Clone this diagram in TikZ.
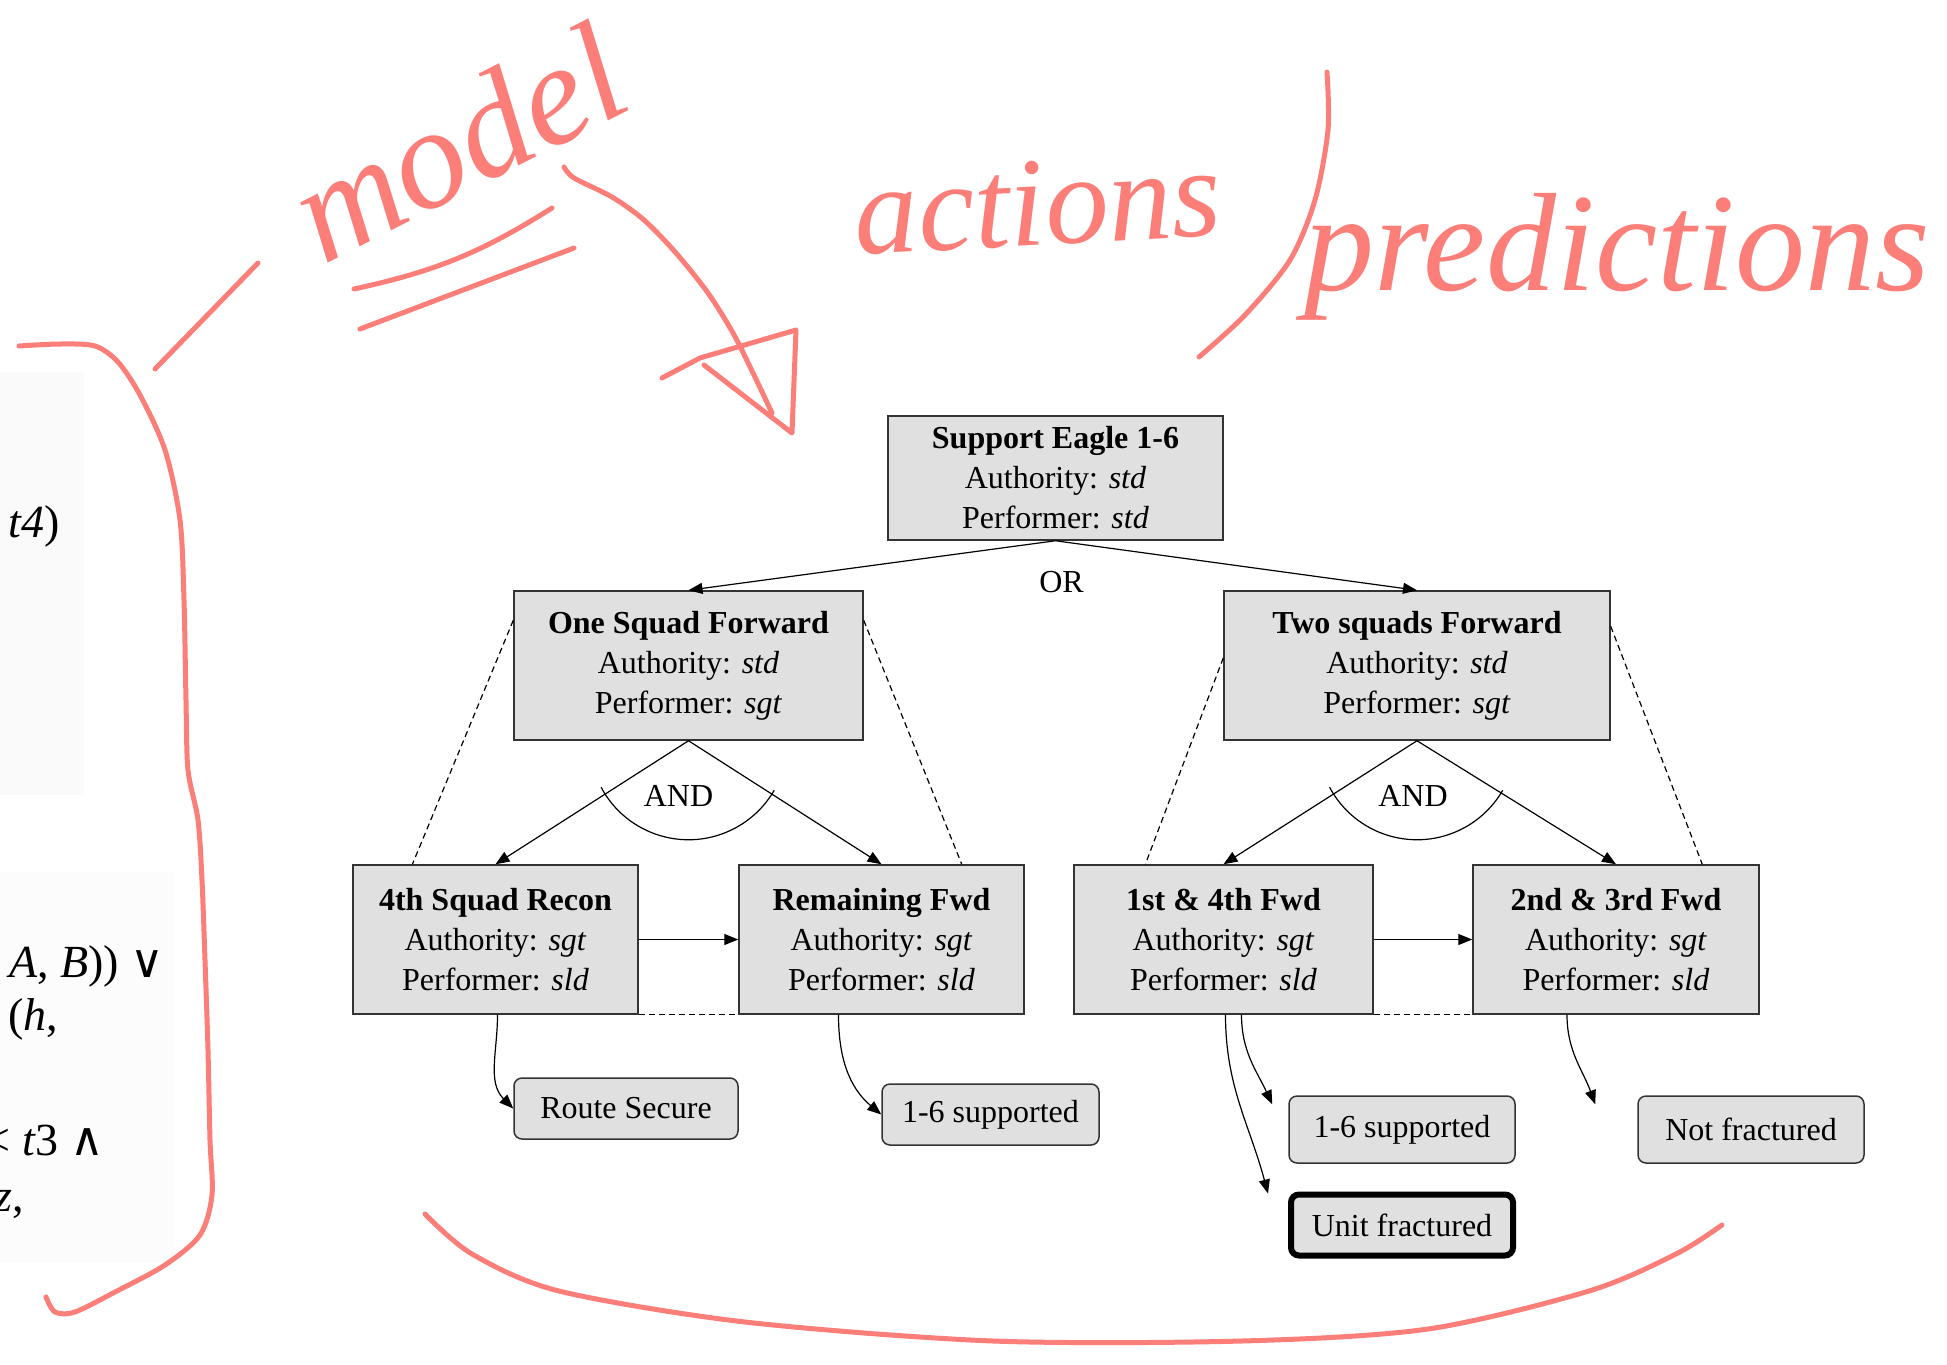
\documentclass[tikz,border=0pt]{standalone}
\usepackage{amsmath}
\usepackage{amssymb}
\usepackage{fontspec}
\setmainfont{Liberation Serif}
\newfontfamily\symfont{DejaVu Serif}
\usetikzlibrary{positioning,arrows.meta,calc}
\definecolor{penpink}{RGB}{252,126,121}

\begin{document}
\begin{tikzpicture}[x=1pt,y=-1pt,on grid,line width=1.2pt,
		>={Triangle[length=14pt,width=11pt]},
		font=\fontsize{32}{40}\selectfont,
		task/.style={draw=black!80,fill=black!12,line width=1.5pt,align=center,minimum height=149pt},
		outcome/.style={draw=black!80,fill=black!12,line width=1.5pt,rounded corners=8pt,minimum height=61pt},
		frag/.style={anchor=base east,font=\fontsize{46}{46}\selectfont},
		pen/.style={draw=penpink,line width=5pt,line cap=round,line join=round},
		hand/.style={text=penpink,anchor=base}]
		\useasboundingbox (0,0) rectangle (1947,1365);
		\fill[black!2] (0,372) rectangle (84,795);
		\fill[black!1] (0,872) rectangle (174,1263);
		\node[frag](frag1) at (64,537) {\textit{t4})};
		\node[frag](frag2) at (168,977) {\textit{A}, \textit{B})) {\symfont ∨}};
		\node[frag](frag3) at (62,1030) {(\textit{h},};
		\node[frag](frag4) at (108,1155) {< \textit{t}3 {\symfont ∧}};
		\node[frag](frag5) at (28,1211) {\textit{z},};
		
		\node[task,minimum width=335pt,minimum height=124pt](top) at (1055.5,478) {\textbf{Support Eagle 1-6}\\Authority: \textit{std}\\Performer: \textit{std}};
		\node[task,minimum width=349pt](one)[below left=187.5pt and 367pt of top] {\textbf{One Squad Forward}\\Authority: \textit{std}\\Performer: \textit{sgt}};
		\node[task,minimum width=386pt](two)[below right=187.5pt and 361.5pt of top] {\textbf{Two squads Forward}\\Authority: \textit{std}\\Performer: \textit{sgt}};
		\node[task,minimum width=285pt](recon)[below left=274pt and 193pt of one] {\textbf{4th Squad Recon}\\Authority: \textit{sgt}\\Performer: \textit{sld}};
		\node[task,minimum width=285pt](remfwd)[right=386pt of recon] {\textbf{Remaining Fwd}\\Authority: \textit{sgt}\\Performer: \textit{sld}};
		\node[task,minimum width=299pt](fwd14)[below left=274pt and 193.5pt of two] {\textbf{1st \& 4th Fwd}\\Authority: \textit{sgt}\\Performer: \textit{sld}};
		\node[task,minimum width=286pt](fwd23)[right=392.5pt of fwd14] {\textbf{2nd \& 3rd Fwd}\\Authority: \textit{sgt}\\Performer: \textit{sld}};
		\node[outcome,minimum width=224pt](route)[below right=169pt and 130.5pt of recon] {Route Secure};
		\node[outcome,minimum width=217pt](sup1)[below right=175pt and 109pt of remfwd] {1-6 supported};
		\node[outcome,minimum width=226pt,minimum height=67pt](sup2)[below right=190pt and 178.5pt of fwd14] {1-6 supported};
		\node[outcome,minimum width=226pt,minimum height=67pt](notfr)[right=349pt of sup2] {Not fractured};
		\node[outcome,minimum width=222pt,minimum height=61pt,draw=black,line width=6pt](unitfr)[below=95.5pt of sup2] {Unit fractured};
		\node(or)[below=27pt of top.south,xshift=6pt] {OR};
		\node(and1)[below=41pt of one.south,xshift=-10pt] {AND};
		\node(and2)[below=41pt of two.south,xshift=-4pt] {AND};
		
		\path[->]
		(top.south) edge (one.north)
		(top.south) edge (two.north)
		(one.south) edge (recon.north)
		(one.south) edge (remfwd.north)
		(two.south) edge (fwd14.north)
		(two.south) edge (fwd23.north)
		(recon) edge (remfwd)
		(fwd14) edge (fwd23);
		\draw ([shift={(208:99pt)}]one.south) arc[start angle=208,end angle=330,radius=99pt];
		\draw ([shift={(208:99pt)}]two.south) arc[start angle=208,end angle=330,radius=99pt];
		\path[dashed,dash pattern=on 6pt off 4pt]
		($(one.north west)!0.2!(one.south west)$) edge ($(recon.north west)!0.21!(recon.north east)$)
		($(one.north east)!0.2!(one.south east)$) edge ($(remfwd.north west)!0.78!(remfwd.north east)$)
		($(two.north west)!0.45!(two.south west)$) edge ($(fwd14.north west)!0.24!(fwd14.north east)$)
		($(two.north east)!0.24!(two.south east)$) edge ($(fwd23.north west)!0.8!(fwd23.north east)$)
		(recon.south east) edge (remfwd.south west)
		(fwd14.south east) edge (fwd23.south west);
		\path[->]
		([xshift=2pt]recon.south) edge[out=-90,in=135] (route.west)
		([xshift=-43pt]remfwd.south) edge[out=-90,in=140] (sup1.west)
		([xshift=18pt]fwd14.south) edge[out=-90,in=115] ([xshift=-16pt,yshift=-9pt]sup2.north west)
		([xshift=2pt]fwd14.south) edge[out=-90,in=105] ([xshift=-20pt,yshift=-2pt]unitfr.north west)
		([xshift=-49pt]fwd23.south) edge[out=-90,in=110] ([xshift=-42pt,yshift=-9pt]notfr.north west);
		
		\node[hand,font=\fontsize{144}{144}\selectfont\itshape,rotate=27](model) at (480,186) {model};
		\node[hand,font=\fontsize{127}{127}\selectfont\itshape,rotate=3](act) at (1040,245) {actions};
		\node[hand,font=\fontsize{140}{140}\selectfont\itshape](pred) at (1617,290) {predictions};
		\draw[pen] plot[smooth] coordinates {(19,346) (60,344) (95,346) (118,362) (140,395) (165,450) (180,520) (184,600) (186,700) (188,770) (198,820) (202,880) (205,960) (208,1050) (210,1140) (212,1195) (200,1235) (165,1265) (115,1292) (75,1312) (55,1312) (46,1297)};
		\draw[pen] (155,369) -- (258,263);
		\draw[pen] (354,289) to[bend right=10] (552,208);
		\draw[pen] (360,329) -- (574,248);
		\draw[pen] plot[smooth] coordinates {(564,167) (574,178) (612,197) (644,220) (676,253) (708,293) (733,333) (753,373) (772,413)};
		\draw[pen] (662,378) -- (700,358) -- (796,330) -- (792,433) -- (704,365);
		\draw[pen] plot[smooth] coordinates {(1327,72) (1328,130) (1315,200) (1290,260) (1245,315) (1199,357)};
		\draw[pen] plot[smooth] coordinates {(425,1214) (472,1254) (559,1291) (745,1322) (993,1341) (1242,1341) (1428,1329) (1589,1291) (1676,1254) (1722,1225)};
		\end{tikzpicture}
\end{document}
